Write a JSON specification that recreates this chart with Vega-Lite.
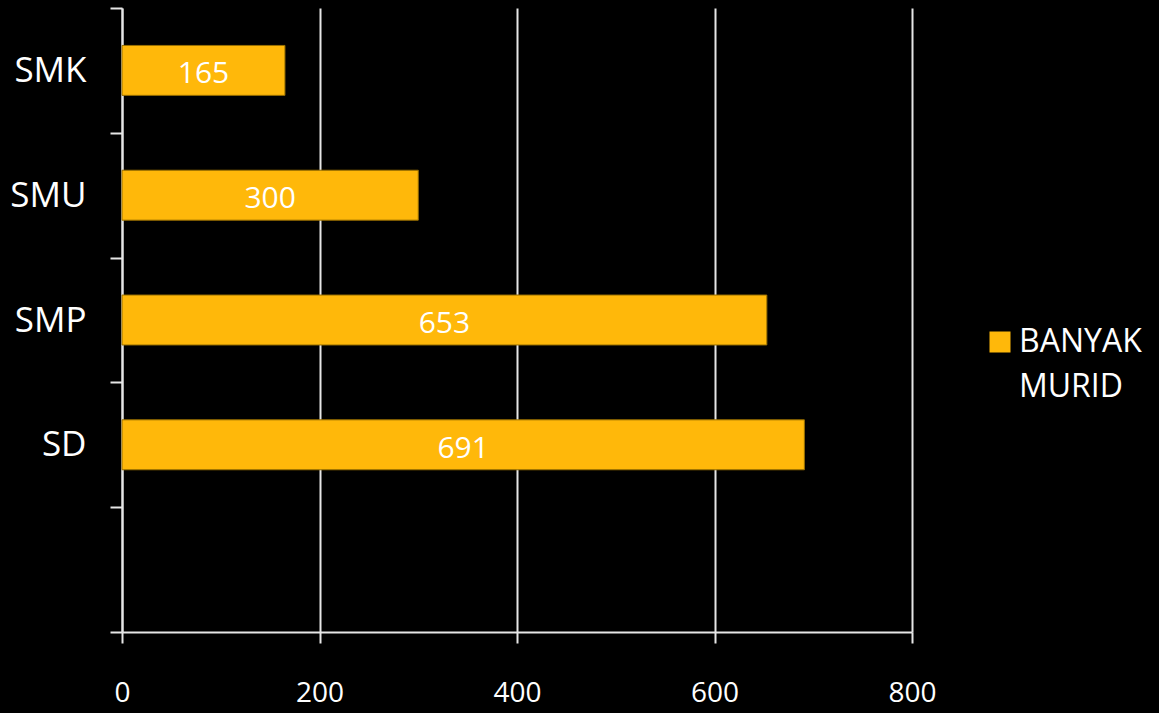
{
  "$schema": "https://vega.github.io/schema/vega-lite/v6.json",
  "autosize": {"type": "none"},
  "padding": {"left": 122, "top": 8, "right": 247, "bottom": 81},
  "width": 790,
  "height": 624,
  "background": "#000000",
  "config": {
    "view": {"stroke": null},
    "font": "Open Sans",
    "style": {"guide-label": {"lineHeight": 45, "dy": 10}}
  },
  "data": {
    "values": [
      {"jenjang": "SMK", "murid": 165, "seri": "BANYAK MURID"},
      {"jenjang": "SMU", "murid": 300, "seri": "BANYAK MURID"},
      {"jenjang": "SMP", "murid": 653, "seri": "BANYAK MURID"},
      {"jenjang": "SD", "murid": 691, "seri": "BANYAK MURID"}
    ]
  },
  "layer": [
    {
      "mark": {"type": "bar", "stroke": "#9a7000", "strokeWidth": 1, "height": {"band": 0.4}},
      "encoding": {
        "y": {
          "field": "jenjang",
          "type": "nominal",
          "scale": {"domain": ["SMK", "SMU", "SMP", "SD", " "], "paddingInner": 0, "paddingOuter": 0},
          "axis": {
            "title": null,
            "tickBand": "extent",
            "domainColor": "#e6e6e6",
            "domainWidth": 2,
            "tickColor": "#e6e6e6",
            "tickWidth": 2,
            "tickSize": 12,
            "labelColor": "#ffffff",
            "labelFont": "Open Sans",
            "labelFontSize": 35,
            "labelPadding": 24,
            "labelOffset": -10,
            "grid": false
          }
        },
        "x": {
          "field": "murid",
          "type": "quantitative",
          "scale": {"domain": [0, 800], "nice": false},
          "axis": {
            "title": null,
            "values": [0, 200, 400, 600, 800],
            "grid": true,
            "gridColor": "#e6e6e6",
            "gridWidth": 2,
            "domainColor": "#e6e6e6",
            "domainWidth": 2,
            "tickColor": "#e6e6e6",
            "tickWidth": 2,
            "tickSize": 11,
            "labelColor": "#ffffff",
            "labelFont": "Open Sans",
            "labelFontSize": 28,
            "labelPadding": 26,
            "labelFlush": false,
            "labelOverlap": false
          }
        },
        "color": {
          "field": "seri",
          "type": "nominal",
          "scale": {"range": ["#FFB80A"]},
          "legend": {
            "title": null,
            "orient": "none",
            "legendX": 862,
            "legendY": 318,
            "symbolType": "square",
            "symbolSize": 441,
            "symbolStrokeWidth": 0,
            "labelColor": "#ffffff",
            "labelFont": "Open Sans",
            "labelFontSize": 32,
            "labelExpr": "split(datum.label, ' ')",
            "labelBaseline": "alphabetic",
            "labelOffset": 3
          }
        }
      }
    },
    {
      "mark": {"type": "text", "color": "#ffffff", "fontSize": 30, "font": "Open Sans", "baseline": "middle", "dy": 4},
      "encoding": {
        "y": {"field": "jenjang", "type": "nominal"},
        "x": {
          "field": "murid",
          "type": "quantitative",
          "scale": {"domain": [0, 1600], "nice": false},
          "axis": null
        },
        "text": {"field": "murid", "type": "quantitative"}
      }
    }
  ],
  "resolve": {"scale": {"x": "independent"}}
}
